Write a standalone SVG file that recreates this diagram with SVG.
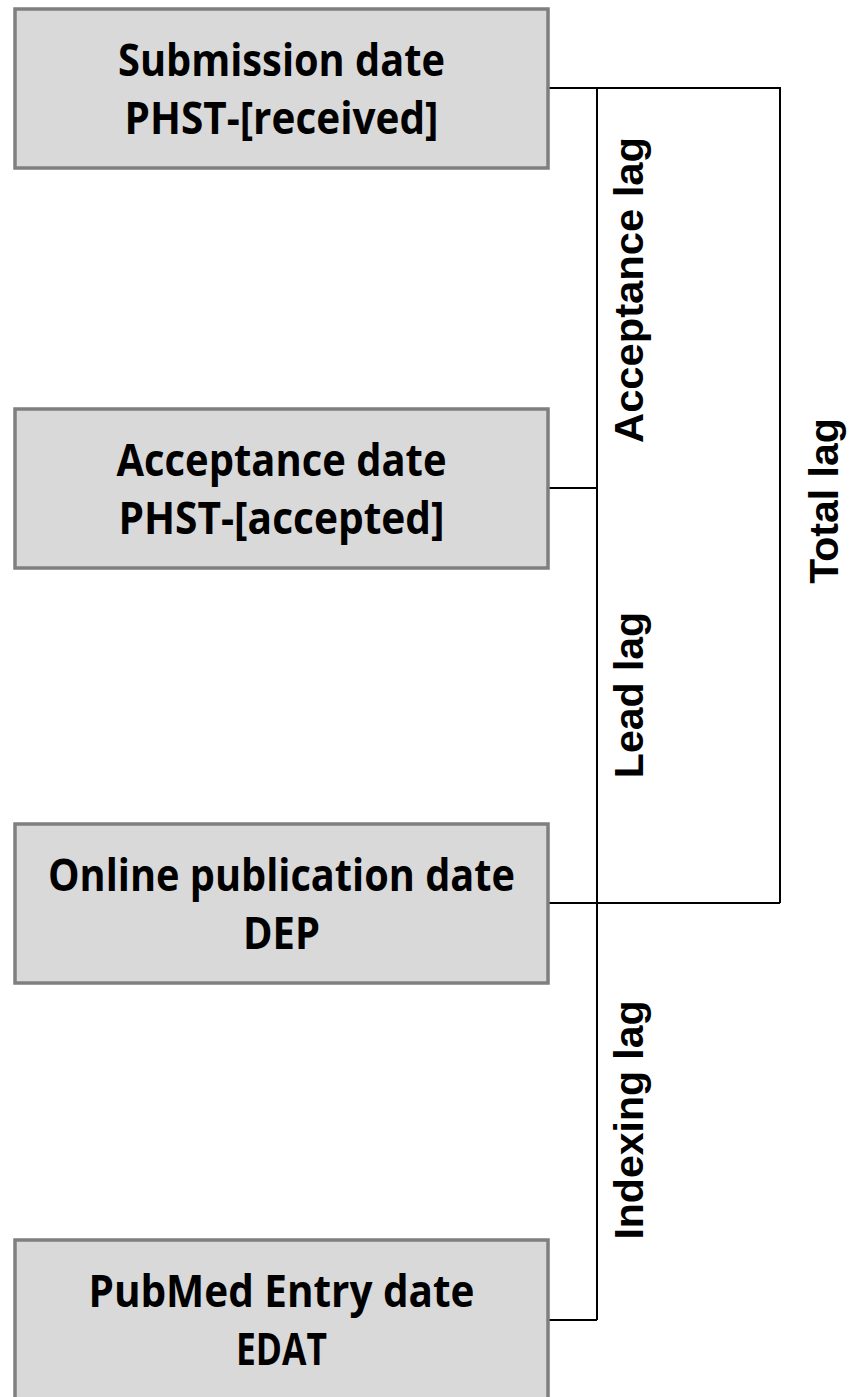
<svg xmlns="http://www.w3.org/2000/svg" width="852" height="1397" viewBox="0 0 852 1397">
<style>
.box{fill:#d9d9d9;stroke:#7f7f7f;stroke-width:3.5}
.bt{font-family:"Open Sans","Liberation Sans",sans-serif;font-weight:bold;font-size:44px;fill:#000;text-anchor:middle}
.lt{font-family:"Liberation Sans",Arial,sans-serif;font-weight:bold;font-size:41px;fill:#000;text-anchor:middle}
.ln{fill:none;stroke:#000;stroke-width:2}
</style>
<rect width="852" height="1397" fill="#fff"/>
<g id="connectors">
<path class="ln" d="M549 88H780V903M597 88V1320M549 488H597M549 903H780M549 1320H597"/>
</g>
<g id="submission">
<rect class="box" x="15" y="9" width="533" height="159"/>
<text class="bt" x="281.5" y="76" textLength="327" lengthAdjust="spacingAndGlyphs">Submission date</text>
<text class="bt" x="281.5" y="134" textLength="314" lengthAdjust="spacingAndGlyphs">PHST-[received]</text>
</g>
<g id="acceptance">
<rect class="box" x="15" y="409" width="533" height="159"/>
<text class="bt" x="281.5" y="476" textLength="330" lengthAdjust="spacingAndGlyphs">Acceptance date</text>
<text class="bt" x="281.5" y="534" textLength="326" lengthAdjust="spacingAndGlyphs">PHST-[accepted]</text>
</g>
<g id="online">
<rect class="box" x="15" y="824" width="533" height="159"/>
<text class="bt" x="281.5" y="891" textLength="467" lengthAdjust="spacingAndGlyphs">Online publication date</text>
<text class="bt" x="281.5" y="949" textLength="77" lengthAdjust="spacingAndGlyphs">DEP</text>
</g>
<g id="pubmed">
<rect class="box" x="15" y="1240" width="533" height="180"/>
<text class="bt" x="281.5" y="1307" textLength="386" lengthAdjust="spacingAndGlyphs">PubMed Entry date</text>
<text class="bt" x="281.5" y="1365" textLength="91" lengthAdjust="spacingAndGlyphs">EDAT</text>
</g>
<g id="labels">
<text class="lt" transform="translate(643 290) rotate(-90)" textLength="306" lengthAdjust="spacingAndGlyphs">Acceptance lag</text>
<text class="lt" transform="translate(643 695) rotate(-90)">Lead lag</text>
<text class="lt" transform="translate(838 501) rotate(-90)">Total lag</text>
<text class="lt" transform="translate(643 1120) rotate(-90)">Indexing lag</text>
</g>
</svg>
